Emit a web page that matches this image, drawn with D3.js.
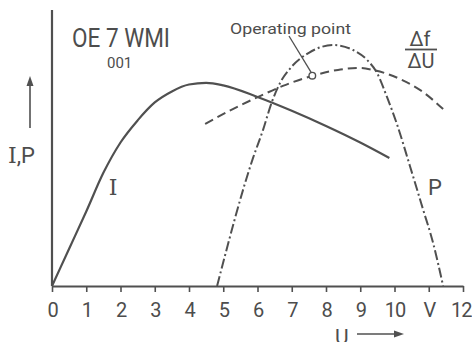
<!DOCTYPE html>
<html><head><meta charset="utf-8">
<script src="https://cdn.jsdelivr.net/npm/d3@7"></script>
<style>body{margin:0;background:#fff}svg{display:block}text{font-family:Roboto,"DejaVu Sans",sans-serif;fill:#4d4d4d}</style>
</head><body>
<script>
// Data (U in volts, I/P/df in relative units 0..100)
const tickValues = [0,1,2,3,4,5,6,7,8,9,10,11,12];
const tickLabels = ["0","1","2","3","4","5","6","7","8","9","10","V","12"];
const uI  = [0,0.5,1,1.5,2,2.5,3,3.5,4,4.5,5,6,7,8,9,9.85];
const vI  = [0,13.5,27,41,52,60,66.5,70.5,73,73.6,72.7,68.5,63.5,58,52,46.4];
const uP  = [4.82,5.87,6.16,6.42,6.66,7.0,7.5,8.2,8.79,9.2,9.49,9.78,10.07,10.45,10.83,11.12,11.42];
const vP  = [0,46.4,56.5,66.7,73.6,79.5,84.5,87.3,85.5,81.9,77.2,68.5,58.7,43.5,27.9,15.9,0];
const uDf = [4.47,5.28,6.07,6.74,7.59,8.35,8.99,9.37,10.16,10.83,11.42];
const vDf = [58.7,64.1,68.8,72.5,76.1,78.3,79.0,78.3,75.0,70.3,64.1];
const opU = 7.6, opV = 76.2;

const W=472,H=342;
const svg=d3.select("body").append("svg").attr("width",W).attr("height",H);
const x=d3.scaleLinear().domain([0,12]).range([52,463]);
const y=d3.scaleLinear().domain([0,100]).range([286,10]);
const col="#505050";

// x axis
const ax=svg.append("g").attr("transform",`translate(0,${y(0)})`)
  .call(d3.axisBottom(x).tickValues(tickValues).tickFormat((d,i)=>tickLabels[i]).tickSize(6).tickSizeOuter(0).tickPadding(11));
ax.select(".domain").attr("stroke",col).attr("stroke-width",2.2);
ax.selectAll(".tick line").attr("stroke",col).attr("stroke-width",1.6);
ax.selectAll(".tick text").attr("font-size",20).attr("fill","#4d4d4d").attr("font-family","Roboto,sans-serif")
  .attr("letter-spacing","-1px");
ax.selectAll(".tick text").filter((d)=>d===12).attr("text-anchor","end").attr("dx","8");

// y axis line
svg.append("line").attr("x1",x(0)).attr("x2",x(0)).attr("y1",y(0)).attr("y2",y(100))
  .attr("stroke",col).attr("stroke-width",2.2);

const line=d3.line().x(d=>x(d[0])).y(d=>y(d[1])).curve(d3.curveMonotoneX);
const zip=(a,b)=>a.map((v,i)=>[v,b[i]]);

svg.append("path").attr("d",line(zip(uI,vI))).attr("fill","none").attr("stroke",col).attr("stroke-width",2.2);
svg.append("path").attr("d",line(zip(uP,vP))).attr("fill","none").attr("stroke",col).attr("stroke-width",2)
  .attr("stroke-dasharray","10,3,2,3");
svg.append("path").attr("d",line(zip(uDf,vDf))).attr("fill","none").attr("stroke",col).attr("stroke-width",2)
  .attr("stroke-dasharray","9,5");

// operating point
svg.append("line").attr("x1",289).attr("y1",36).attr("x2",x(opU)-1).attr("y2",y(opV)-3)
  .attr("stroke",col).attr("stroke-width",1.3);
svg.append("circle").attr("cx",x(opU)).attr("cy",y(opV)).attr("r",3.3)
  .attr("fill","#fff").attr("stroke",col).attr("stroke-width",1.4);
svg.append("text").attr("x",230).attr("y",34).attr("font-size",15).attr("textLength",121)
  .attr("lengthAdjust","spacingAndGlyphs").text("Operating point");

// titles
svg.append("text").attr("x",72).attr("y",47).attr("font-size",26).attr("textLength",98)
  .attr("lengthAdjust","spacingAndGlyphs").text("OE 7 WMI");
svg.append("text").attr("x",107).attr("y",68).attr("font-size",15).attr("fill","#666").text("001");

// delta f / delta U
svg.append("text").attr("x",420).attr("y",46).attr("font-size",20).attr("text-anchor","middle").text("Δf");
svg.append("line").attr("x1",405).attr("x2",437).attr("y1",49.5).attr("y2",49.5).attr("stroke",col).attr("stroke-width",1.8);
svg.append("text").attr("x",421).attr("y",68).attr("font-size",20).attr("text-anchor","middle").text("ΔU");

// curve labels
svg.append("text").attr("x",113).attr("y",195).attr("font-size",22).attr("text-anchor","middle")
  .style("font-family","'DejaVu Serif',serif").text("I");
svg.append("text").attr("x",435).attr("y",195).attr("font-size",22).attr("text-anchor","middle").text("P");

// y label
const yl=svg.append("text").attr("x",8).attr("y",163).attr("font-size",22);
yl.append("tspan").style("font-family","'DejaVu Serif',serif").text("I");
yl.append("tspan").text(",P");
svg.append("line").attr("x1",30).attr("x2",30).attr("y1",128).attr("y2",82).attr("stroke",col).attr("stroke-width",1.6);
svg.append("path").attr("d","M30,76 L26.5,86 L33.5,86 Z").attr("fill",col);

// x label
svg.append("text").attr("x",335).attr("y",344).attr("font-size",21).text("U");
svg.append("line").attr("x1",357).attr("x2",396).attr("y1",334).attr("y2",334).attr("stroke",col).attr("stroke-width",1.6);
svg.append("path").attr("d","M404,334 L394,330.5 L394,337.5 Z").attr("fill",col);
</script>
</body></html>
